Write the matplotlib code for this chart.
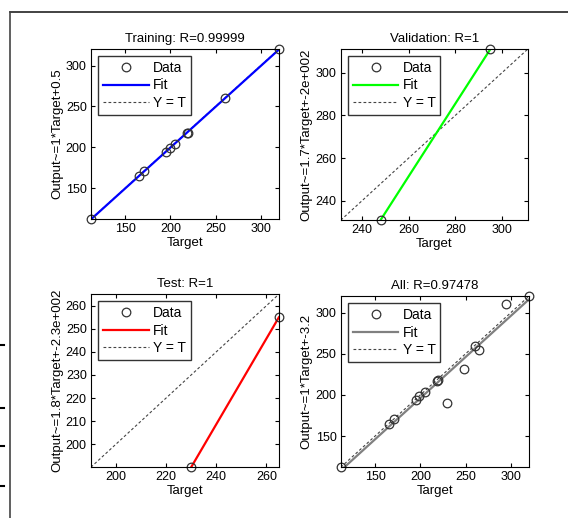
import numpy as np
import matplotlib
matplotlib.use('Agg')
import matplotlib.pyplot as plt
from matplotlib.lines import Line2D

plt.rcParams['font.family'] = ['Liberation Sans', 'DejaVu Sans']
plt.rcParams['font.size'] = 9


# values
train_target = [112, 165, 171, 195, 199, 205, 218, 219, 260, 320]
train_output = [112, 165, 171, 194, 199, 204, 217, 218, 260, 320]

val_target = [248, 295]
val_output = [231, 311]

test_target = [230, 265]
test_output = [190, 255]

all_target = train_target + val_target + test_target
all_output = train_output + val_output + test_output

titles = ['Training: R=0.99999', 'Validation: R=1', 'Test: R=1', 'All: R=0.97478']
ylabels = ['Output~=1*Target+0.5',
           'Output~=1.7*Target+-2e+002',
           'Output~=1.8*Target+-2.3e+002',
           'Output~=1*Target+-3.2']
xticks = [[150, 200, 250, 300], [240, 260, 280, 300],
          [200, 220, 240, 260], [150, 200, 250, 300]]
yticks = [[150, 200, 250, 300], [240, 260, 280, 300],
          [200, 210, 220, 230, 240, 250, 260], [150, 200, 250, 300]]
limits = [(112, 320), (231, 311), (190, 265), (112, 320)]
fit_colors = ['#0000ff', '#00ff00', '#ff0000', '#808080']


def build_plot(ax, target, output, title, ylabel, xt, yt, lim, color):
    '''
    One regression panel in the MATLAB style.
    '''
    lo, hi = lim
    slope, icpt = np.polyfit(target, output, 1)
    xs = np.array([lo, hi])

    ax.plot(xs, xs, '--', color='#444444', lw=0.8, dashes=(2.5, 2), label='Y = T')
    ax.plot(xs, slope * xs + icpt, color=color, lw=1.6, label='Fit')
    ax.plot(target, output, 'o', mfc='none', mec='#333333', ms=6.2, mew=0.9,
            label='Data', clip_on=False)

    ax.set_xlim(lo, hi)
    ax.set_ylim(lo, hi)
    ax.set_xticks(xt)
    ax.set_yticks(yt)
    ax.tick_params(direction='in', top=True, right=True, length=3,
                   labelsize=9, pad=3)
    ax.set_title(title, fontsize=9.5, pad=5)
    ax.set_xlabel('Target', fontsize=9.5, labelpad=1)
    ax.set_ylabel(ylabel, fontsize=9.5, labelpad=2)

    h, l = ax.get_legend_handles_labels()
    order = [2, 1, 0]
    ax.legend([h[i] for i in order], [l[i] for i in order], loc='upper left',
              fontsize=10, frameon=True, fancybox=False, edgecolor='black',
              handlelength=3.3, borderpad=0.35, labelspacing=0.25,
              borderaxespad=0.5, handletextpad=0.3)


fig = plt.figure(figsize=(5.68, 5.18), dpi=100)

positions = [[0.160, 0.577, 0.331, 0.328],
             [0.600, 0.575, 0.329, 0.330],
             [0.160, 0.098, 0.331, 0.334],
             [0.600, 0.098, 0.331, 0.330]]
sets = [(train_target, train_output), (val_target, val_output),
        (test_target, test_output), (all_target, all_output)]

for i in range(4):
    ax = fig.add_axes(positions[i])
    build_plot(ax, sets[i][0], sets[i][1], titles[i], ylabels[i],
               xticks[i], yticks[i], limits[i], fit_colors[i])

# page frame around the figure, as in the screenshot
fig.add_artist(Line2D([10 / 568, 1], [1 - 12 / 518, 1 - 12 / 518],
                      color='#222222', lw=1.2))
fig.add_artist(Line2D([10 / 568, 10 / 568], [0, 1 - 12 / 518],
                      color='#444444', lw=1.2))
for y in [345, 408, 446, 486]:
    fig.add_artist(Line2D([0, 4 / 568], [1 - y / 518, 1 - y / 518],
                          color='black', lw=1.5))

plt.savefig('out.png', dpi=100)
plt.close('all')
